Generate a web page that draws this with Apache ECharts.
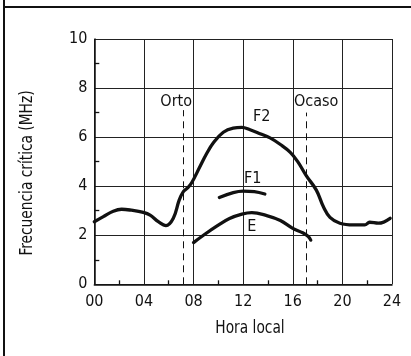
<!DOCTYPE html>
<html><head><meta charset="utf-8">
<script src="https://cdn.jsdelivr.net/npm/echarts@6/dist/echarts.min.js"></script>
<style>html,body{margin:0;padding:0;background:#fff}#c{width:411px;height:356px}</style>
</head><body><div id="c"></div>
<script>
// Hora local (h) and critical frequency (MHz)
const f2Hours = [0, 0.73, 1.53, 2.2, 3.0, 3.95, 4.5, 5.16, 5.78, 6.37, 6.85, 7.18, 7.5, 7.85, 8.52, 9.06, 9.6, 10.4, 11.2, 11.9, 12.56, 13.36, 14.17, 15.0, 15.8, 16.4, 17.1, 17.9, 18.47, 19.0, 19.8, 20.9, 21.8, 22.2, 22.9, 23.85];
const f2Values = [2.55, 2.76, 2.98, 3.06, 3.02, 2.93, 2.82, 2.55, 2.39, 2.69, 3.44, 3.78, 3.92, 4.14, 4.8, 5.33, 5.77, 6.2, 6.37, 6.4, 6.3, 6.14, 5.97, 5.7, 5.38, 5.0, 4.42, 3.84, 3.16, 2.73, 2.49, 2.42, 2.42, 2.53, 2.49, 2.69];
const f1Hours = [10.08, 11.2, 12.0, 12.9, 13.75];
const f1Values = [3.54, 3.74, 3.8, 3.78, 3.68];
const eHours = [8.0, 8.8, 9.9, 10.9, 11.9, 12.7, 13.9, 15.0, 16.0, 16.8, 17.25, 17.45];
const eValues = [1.7, 2.0, 2.38, 2.68, 2.86, 2.92, 2.8, 2.6, 2.28, 2.1, 1.95, 1.8];
const xTicks = ['00', '04', '08', '12', '16', '20', '24'];
const sunEvents = [{ name: 'Orto', hour: 7.2, top: 7.1 }, { name: 'Ocaso', hour: 17.05, top: 7.0 }];
const curveLabels = [{ name: 'F2', hour: 13.5, value: 6.82 }, { name: 'F1', hour: 12.77, value: 4.29 }, { name: 'E', hour: 12.69, value: 2.35 }];
const eventLabelLevel = 7.43;

const FONT = "'DejaVu Sans Condensed','Liberation Sans Narrow','Arial Narrow',sans-serif";
const INK = '#111';
const zip = (xs, ys) => xs.map((x, i) => [x, ys[i]]);
const curve = (name, data) => ({
  type: 'line', name, data, smooth: 0.4, symbol: 'none',
  lineStyle: { color: INK, width: 3.3, cap: 'round', join: 'round' }, z: 5
});

const chart = echarts.init(document.getElementById('c'), null, { renderer: 'canvas' });
chart.setOption({
  animation: false,
  backgroundColor: '#fff',
  textStyle: { fontFamily: FONT, color: INK },
  grid: { left: 94.3, right: 19, top: 39, bottom: 71.7 },
  xAxis: {
    type: 'value', min: 0, max: 24, interval: 4,
    axisLine: { show: true, onZero: false, lineStyle: { color: INK, width: 1.5 } },
    axisTick: { show: false, inside: true },
    minorTick: { show: true, splitNumber: 2, length: 4, lineStyle: { color: INK, width: 1.3 } },
    splitLine: { show: true, lineStyle: { color: '#222', width: 1 } },
    axisLabel: { fontFamily: FONT, fontSize: 16, color: INK, margin: 10,
      formatter: v => xTicks[Math.round(v / 4)] },
  },
  yAxis: {
    type: 'value', min: 0, max: 10, interval: 2,
    axisLine: { show: true, lineStyle: { color: INK, width: 1.5 } },
    axisTick: { show: false, inside: true },
    minorTick: { show: true, splitNumber: 2, length: 5, lineStyle: { color: INK, width: 1.3 } },
    splitLine: { show: true, lineStyle: { color: '#222', width: 1 } },
    axisLabel: { fontFamily: FONT, fontSize: 16, color: INK, margin: 7 },
  },
  graphic: [
    { type: 'line', shape: { x1: 4, y1: 0, x2: 4, y2: 356 }, style: { stroke: INK, lineWidth: 2 } },
    { type: 'line', shape: { x1: 4, y1: 7, x2: 411, y2: 7 }, style: { stroke: INK, lineWidth: 2 } },
    { type: 'text', x: 28, y: 173, rotation: Math.PI / 2, scaleX: 0.9, scaleY: 1,
      style: { text: 'Frecuencia crítica (MHz)', font: '17px ' + FONT, fill: INK, align: 'center', verticalAlign: 'middle' } },
    { type: 'text', x: 250, y: 329, scaleX: 0.9,
      style: { text: 'Hora local', font: '17px ' + FONT, fill: INK, align: 'center', verticalAlign: 'middle' } },
  ],
  series: [
    curve('F2', zip(f2Hours, f2Values)),
    curve('F1', zip(f1Hours, f1Values)),
    curve('E', zip(eHours, eValues)),
    {
      type: 'line', name: 'annotations', data: [], symbol: 'none',
      markLine: {
        silent: true, symbol: 'none', label: { show: false },
        lineStyle: { color: INK, width: 1, type: [7, 5] },
        data: sunEvents.map(e => [{ coord: [e.hour, 0] }, { coord: [e.hour, e.top] }])
      },
      markPoint: {
        silent: true, symbol: 'circle', symbolSize: 0,
        label: { show: true, position: 'inside', fontFamily: FONT, fontSize: 16, color: INK },
        data: sunEvents.map(e => ({ name: e.name, coord: [e.hour - (e.name === 'Orto' ? 0.6 : -0.83), eventLabelLevel], label: { formatter: e.name } }))
          .concat(curveLabels.map(c => ({ name: c.name, coord: [c.hour, c.value], label: { formatter: c.name } })))
      }
    }
  ]
});
</script></body></html>
